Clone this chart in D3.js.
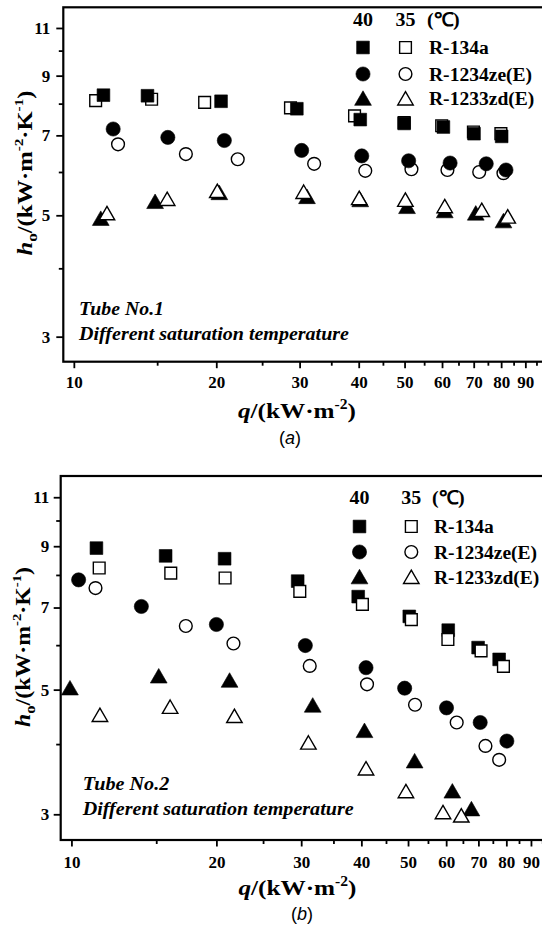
<!DOCTYPE html>
<html><head><meta charset="utf-8">
<script src="https://cdn.jsdelivr.net/npm/d3@7"></script>
<style>
html,body{margin:0;padding:0;background:#fff;overflow:hidden}
svg{display:block}
text{fill:#000}
</style></head><body>
<svg id="fig" width="542" height="927"></svg>
<script>
// ---------- axis ticks / legend text ----------
const xTicks = [10, 20, 30, 40, 50, 60, 70, 80, 90];
const xMinor = [15, 25, 35, 45, 55, 65, 75, 85, 95];
const yTicks = [3, 5, 7, 9, 11];
const yMinor = [4, 6, 8, 10];
const tempLabels = ["40", "35", "(\u2103)"];
const fluids = ["R-134a", "R-1234ze(E)", "R-1233zd(E)"];

// ---------- Tube No.1 : q (kW/m2), h_o (kW/m2K) ----------
const t1_q_134a_40 = [11.55, 14.31, 20.47, 29.6, 40.3, 49.9, 60.4, 70.1, 80.2];
const t1_h_134a_40 = [8.29, 8.27, 8.08, 7.83, 7.48, 7.36, 7.25, 7.05, 6.97];
const t1_q_134a_35 = [11.12, 14.6, 18.9, 28.7, 39.2, 49.9, 59.9, 69.9, 79.9];
const t1_h_134a_35 = [8.10, 8.15, 8.04, 7.86, 7.60, 7.39, 7.29, 7.10, 7.05];
const t1_q_ze_40 = [12.11, 15.8, 20.8, 30.3, 40.6, 51.0, 62.4, 74.4, 81.9];
const t1_h_ze_40 = [7.19, 6.94, 6.85, 6.57, 6.42, 6.29, 6.23, 6.21, 6.05];
const t1_q_ze_35 = [12.4, 17.25, 22.2, 32.2, 41.3, 51.7, 61.6, 71.9, 80.9];
const t1_h_ze_35 = [6.74, 6.47, 6.33, 6.21, 6.03, 6.07, 6.05, 6.00, 5.97];
const t1_q_zd_40 = [11.4, 14.85, 20.3, 31.1, 40.3, 50.6, 60.8, 70.7, 80.9];
const t1_h_zd_40 = [4.89, 5.25, 5.45, 5.36, 5.29, 5.14, 5.05, 5.00, 4.84];
const t1_q_zd_35 = [11.75, 15.75, 20.1, 30.6, 40.1, 50.2, 60.8, 72.8, 82.6];
const t1_h_zd_35 = [5.00, 5.31, 5.49, 5.47, 5.33, 5.29, 5.15, 5.07, 4.93];

// ---------- Tube No.2 ----------
const t2_q_134a_40 = [11.27, 15.69, 20.8, 29.5, 39.4, 50.3, 60.6, 69.9, 77.3];
const t2_h_134a_40 = [8.93, 8.65, 8.55, 7.80, 7.32, 6.75, 6.38, 5.94, 5.66];
const t2_q_134a_35 = [11.42, 16.08, 20.85, 29.8, 40.2, 50.8, 60.5, 70.9, 78.9];
const t2_h_134a_35 = [8.23, 8.06, 7.90, 7.48, 7.09, 6.66, 6.14, 5.86, 5.50];
const t2_q_ze_40 = [10.35, 13.97, 20.0, 30.6, 40.9, 49.2, 60.1, 70.6, 80.2];
const t2_h_ze_40 = [7.84, 7.03, 6.53, 5.99, 5.47, 5.03, 4.64, 4.37, 4.05];
const t2_q_ze_35 = [11.22, 17.28, 21.7, 31.25, 41.1, 51.7, 63.1, 72.4, 77.3];
const t2_h_ze_35 = [7.58, 6.49, 6.04, 5.51, 5.11, 4.70, 4.37, 3.97, 3.75];
const t2_q_zd_40 = [9.93, 15.18, 21.3, 31.7, 40.6, 51.6, 61.8, 67.7];
const t2_h_zd_40 = [4.99, 5.24, 5.15, 4.65, 4.19, 3.70, 3.27, 3.04];
const t2_q_zd_35 = [11.46, 16.03, 21.8, 31.05, 40.9, 49.5, 59.1, 64.5];
const t2_h_zd_35 = [4.47, 4.62, 4.45, 3.99, 3.59, 3.27, 3.00, 2.96];

const SERIF = '"Liberation Serif","Times New Roman",Times,serif';
const SANS = '"Liberation Sans",Arial,Helvetica,sans-serif';

const svg = d3.select("#fig");
const xDomain = [9.5, 100];
const yDomain = [2.7, 12];

// marker look: shape + filled/open
const SHAPES = {
  square: d3.symbolSquare,
  circle: d3.symbolCircle,
  triangle: d3.symbolTriangle
};
const SIZE_FILLED = { square: 162, circle: 158, triangle: 122 };
const SIZE_OPEN = { square: 138, circle: 128, triangle: 104 };

function marker(g, shape, filled, cx, cy) {
  const path = d3.symbol().type(SHAPES[shape])
    .size(filled ? SIZE_FILLED[shape] : SIZE_OPEN[shape]);
  return g.append("path")
    .attr("d", path())
    .attr("transform", `translate(${cx},${cy})`)
    .attr("fill", filled ? "#000" : "#fff")
    .attr("stroke", "#000")
    .attr("stroke-width", filled ? 0.6 : 1.4);
}

// text with sub/superscript pieces
function rich(text, parts, fs) {
  let shift = 0;
  parts.forEach(p => {
    let target = 0, size = fs;
    if (p.k === "sup") { target = -0.42 * fs; size = 0.62 * fs; }
    if (p.k === "sub") { target = 0.22 * fs; size = 0.7 * fs; }
    const ts = text.append("tspan").text(p.t)
      .attr("dy", target - shift).style("font-size", size + "px");
    if (p.i) ts.style("font-style", "italic");
    shift = target;
  });
  return text;
}

function drawPanel(cfg) {
  const g = svg.append("g");
  const x = d3.scaleLog().domain(xDomain).range([cfg.left, cfg.right]);
  const y = d3.scaleLog().domain(yDomain).range([cfg.bottom, cfg.top]);

  // y axis (major + minor)
  g.append("g").attr("transform", `translate(${cfg.left},0)`)
    .call(d3.axisLeft(y).tickValues(yTicks).tickSize(7).tickPadding(cfg.yPad)
      .tickFormat(d3.format("d")));
  g.append("g").attr("transform", `translate(${cfg.left},0)`)
    .call(d3.axisLeft(y).tickValues(yMinor).tickSize(4.5).tickFormat(""));
  // x axis (major + minor)
  g.append("g").attr("transform", `translate(0,${cfg.bottom})`)
    .call(d3.axisBottom(x).tickValues(xTicks).tickSize(6.5).tickPadding(cfg.xPad)
      .tickFormat(d3.format("d")));
  g.append("g").attr("transform", `translate(0,${cfg.bottom})`)
    .call(d3.axisBottom(x).tickValues(xMinor).tickSize(4).tickFormat(""));
  g.selectAll(".domain").remove();
  g.selectAll(".tick line").attr("stroke", "#000").attr("stroke-width", 1.8);
  g.selectAll(".tick text")
    .style("font-family", SERIF).style("font-weight", "bold")
    .style("font-size", "17px").attr("fill", "#000");

  // frame
  g.append("rect")
    .attr("x", cfg.left).attr("y", cfg.top)
    .attr("width", cfg.right - cfg.left).attr("height", cfg.bottom - cfg.top)
    .attr("fill", "none").attr("stroke", "#000").attr("stroke-width", 2.2);

  // data
  const mg = g.append("g");
  cfg.series.forEach(s => {
    s.q.forEach((qv, i) => marker(mg, s.shape, s.filled, x(qv), y(s.h[i])));
  });

  // legend
  const L = cfg.legend;
  const lg = g.append("g");
  const hdrX = [L.c1, L.c2];
  tempLabels.forEach((t, i) => {
    lg.append("text")
      .attr("transform", `translate(${i < 2 ? hdrX[i] : L.lab - 2},${L.hdrY}) scale(1.05,1)`)
      .attr("text-anchor", i < 2 ? "middle" : "start")
      .style("font-family", SERIF).style("font-weight", "bold")
      .style("font-size", "19px").text(t);
  });
  const shapes = ["square", "circle", "triangle"];
  fluids.forEach((f, i) => {
    const cy = L.rowY[i];
    marker(lg, shapes[i], true, L.c1, cy + (i === 2 ? 2 : 0));
    marker(lg, shapes[i], false, L.c2, cy + (i === 2 ? 2 : 0));
    lg.append("text")
      .attr("transform", `translate(${L.lab},${cy + 6.5}) scale(1.03,1)`)
      .style("font-family", SERIF).style("font-weight", "bold")
      .style("font-size", "19px").text(f);
  });

  // annotation
  [[cfg.note.t1, cfg.note.y1, cfg.note.w1],
   ["Different saturation temperature", cfg.note.y2, cfg.note.w2]].forEach(([t, ty, w]) => {
    g.append("text").attr("x", cfg.note.x).attr("y", ty)
      .style("font-family", SERIF).style("font-weight", "bold")
      .style("font-style", "italic").style("font-size", "19px")
      .attr("textLength", w).attr("lengthAdjust", "spacingAndGlyphs")
      .text(t);
  });

  // x title
  const xt = g.append("text").attr("x", cfg.xt.x).attr("y", cfg.xt.y)
    .attr("text-anchor", "middle")
    .style("font-family", SERIF).style("font-weight", "bold")
    .attr("textLength", 118).attr("lengthAdjust", "spacingAndGlyphs");
  rich(xt, [{ t: "q", i: true }, { t: "/(kW\u00b7m" }, { t: "-2", k: "sup" }, { t: ")" }], 22);

  // y title
  const yt = g.append("text")
    .attr("transform", `translate(${cfg.yt.x},${cfg.yt.y}) rotate(-90)`)
    .attr("text-anchor", "middle")
    .style("font-family", SERIF).style("font-weight", "bold")
    .attr("textLength", cfg.yt.len).attr("lengthAdjust", "spacingAndGlyphs");
  rich(yt, [{ t: "h", i: true }, { t: "o", k: "sub" }, { t: "/(kW\u00b7m" },
    { t: "-2", k: "sup" }, { t: "\u00b7K" }, { t: "-1", k: "sup" }, { t: ")" }], 21);

  // panel tag
  const tag = g.append("text").attr("x", cfg.tag.x).attr("y", cfg.tag.y)
    .attr("text-anchor", "middle")
    .style("font-family", SANS).style("font-size", "18px");
  tag.append("tspan").text("(");
  tag.append("tspan").style("font-style", "italic").text(cfg.tag.t);
  tag.append("tspan").text(")");
}

drawPanel({
  left: 63.3, right: 547, top: 7.3, bottom: 361.7, yPad: 6, xPad: 8,
  series: [
    { q: t1_q_134a_35, h: t1_h_134a_35, shape: "square", filled: false },
    { q: t1_q_134a_40, h: t1_h_134a_40, shape: "square", filled: true },
    { q: t1_q_ze_35, h: t1_h_ze_35, shape: "circle", filled: false },
    { q: t1_q_ze_40, h: t1_h_ze_40, shape: "circle", filled: true },
    { q: t1_q_zd_40, h: t1_h_zd_40, shape: "triangle", filled: true },
    { q: t1_q_zd_35, h: t1_h_zd_35, shape: "triangle", filled: false }
  ],
  legend: { c1: 363, c2: 405.5, lab: 429, hdrY: 25.5, rowY: [47.5, 74, 98.5] },
  note: { x: 79, y1: 315, y2: 340, t1: "Tube No.1", w1: 85, w2: 270 },
  xt: { x: 297, y: 418.3 },
  yt: { x: 32, y: 173, len: 165 },
  tag: { x: 290, y: 443.5, t: "a" }
});

drawPanel({
  left: 60.7, right: 553, top: 476, bottom: 840, yPad: 4.4, xPad: 9.5,
  series: [
    { q: t2_q_134a_40, h: t2_h_134a_40, shape: "square", filled: true },
    { q: t2_q_134a_35, h: t2_h_134a_35, shape: "square", filled: false },
    { q: t2_q_ze_35, h: t2_h_ze_35, shape: "circle", filled: false },
    { q: t2_q_ze_40, h: t2_h_ze_40, shape: "circle", filled: true },
    { q: t2_q_zd_40, h: t2_h_zd_40, shape: "triangle", filled: true },
    { q: t2_q_zd_35, h: t2_h_zd_35, shape: "triangle", filled: false }
  ],
  legend: { c1: 359.5, c2: 411.3, lab: 434, hdrY: 504, rowY: [526.5, 552, 577] },
  note: { x: 82.7, y1: 790, y2: 815, t1: "Tube No.2", w1: 86.6, w2: 271 },
  xt: { x: 297.5, y: 895 },
  yt: { x: 30, y: 647, len: 160 },
  tag: { x: 302, y: 920, t: "b" }
});
</script>
</body></html>
